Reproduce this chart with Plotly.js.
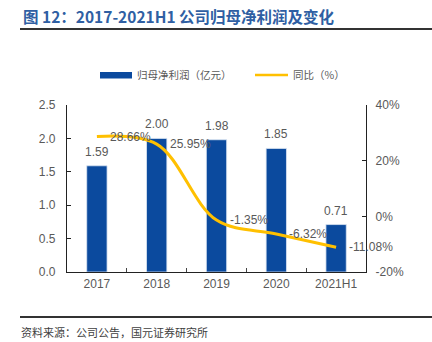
<!DOCTYPE html>
<html>
<head>
<meta charset="utf-8">
<script src="https://cdn.plot.ly/plotly-3.0.1.min.js"></script>
<style>
html,body{margin:0;padding:0;background:#fff;}
#chart{width:432px;height:342px;}
</style>
</head>
<body>
<div id="chart"></div>
<script>
const categories = ["2017", "2018", "2019", "2020", "2021H1"];
const netProfit = [1.59, 2.00, 1.98, 1.85, 0.71];
const growth = [28.66, 25.95, -1.35, -6.32, -11.08];
const profitLabels = ["1.59", "2.00", "1.98", "1.85", "0.71"];
const growthLabels = ["28.66%", "25.95%", "-1.35%", "-6.32%", "-11.08%"];
const leftTicks = [0, 0.5, 1.0, 1.5, 2.0, 2.5];
const leftTickText = ["0.0", "0.5", "1.0", "1.5", "2.0", "2.5"];
const rightTicks = [-20, 0, 20, 40];
const rightTickText = ["-20%", "0%", "20%", "40%"];

const W = 432, H = 342;
const M = {l: 67, r: 66, t: 105, b: 70};
const px = x => (x - M.l) / (W - M.l - M.r);
const py = y => (H - M.b - y) / (H - M.t - M.b);

const FONT = '"Noto Sans CJK SC", "Liberation Sans", Arial, sans-serif';
const NUMFONT = '"Liberation Sans", Arial, sans-serif';
const gray = '#595959';
const blue = '#0B4A9E';
const gold = '#FFC000';

const traces = [
  {
    type: 'bar', x: categories, y: netProfit, name: '归母净利润（亿元）',
    marker: {color: blue, line: {color: '#DCE6F2', width: 0.8}},
    width: 0.34,
    hoverinfo: 'skip'
  },
  {
    type: 'scatter', mode: 'lines', x: categories, y: growth, yaxis: 'y2',
    name: '同比（%）',
    line: {color: gold, width: 3, shape: 'spline', smoothing: 1.0},
    hoverinfo: 'skip'
  }
];

const annotations = categories.map((c, i) => ({
  x: i, y: growth[i], xref: 'x', yref: 'y2', text: growthLabels[i],
  showarrow: false, xanchor: 'left', yanchor: 'middle', xshift: 11,
  font: {family: NUMFONT, size: 12, color: gray}
}));

categories.forEach((c, i) => annotations.push({
  x: i, y: netProfit[i], xref: 'x', yref: 'y', text: profitLabels[i],
  showarrow: false, xanchor: 'center', yanchor: 'bottom', yshift: 5,
  font: {family: NUMFONT, size: 12, color: gray}
}));

annotations.push(
  {xref: 'paper', yref: 'paper', x: px(21), y: py(16), xanchor: 'left', yanchor: 'middle',
   text: '<b>图 12：2017-2021H1 公司归母净利润及变化</b>', showarrow: false,
   font: {family: FONT, size: 15.5, color: '#2F5FA3'}},
  {xref: 'paper', yref: 'paper', x: px(135), y: py(75), xanchor: 'left', yanchor: 'middle',
   text: '归母净利润（亿元）', showarrow: false, font: {family: FONT, size: 10.5, color: gray}},
  {xref: 'paper', yref: 'paper', x: px(291), y: py(75), xanchor: 'left', yanchor: 'middle',
   text: '同比（%）', showarrow: false, font: {family: FONT, size: 10.5, color: gray}},
  {xref: 'paper', yref: 'paper', x: px(19), y: py(332), xanchor: 'left', yanchor: 'middle',
   text: '资料来源：公司公告，国元证券研究所', showarrow: false, font: {family: FONT, size: 11, color: '#404040'}}
);

const shapes = [
  {type: 'line', xref: 'paper', yref: 'paper', x0: px(20), x1: px(432), y0: py(29), y1: py(29), line: {color: '#333', width: 1.8}},
  {type: 'line', xref: 'paper', yref: 'paper', x0: px(20), x1: px(432), y0: py(317), y1: py(317), line: {color: '#333', width: 1.8}},
  {type: 'rect', xref: 'paper', yref: 'paper', x0: px(100), x1: px(132), y0: py(78.5), y1: py(72), fillcolor: blue, line: {width: 0}},
  {type: 'line', xref: 'paper', yref: 'paper', x0: px(255), x1: px(288), y0: py(75), y1: py(75), line: {color: gold, width: 2.5}}
];

const layout = {
  width: W, height: H,
  margin: M,
  paper_bgcolor: '#fff', plot_bgcolor: '#fff',
  showlegend: false,
  xaxis: {
    type: 'category', range: [-0.5, 4.5], showline: true, linecolor: '#222', linewidth: 1.2,
    ticks: 'inside', tickson: 'boundaries', ticklen: 4, tickcolor: '#444',
    tickfont: {family: NUMFONT, size: 12, color: gray}, tickangle: 0,
    showgrid: false, zeroline: false, fixedrange: true
  },
  yaxis: {
    range: [0, 2.5], tickvals: leftTicks, ticktext: leftTickText,
    showline: true, linecolor: '#222', linewidth: 1.2,
    ticks: 'inside', ticklen: 4, tickcolor: '#222',
    ticklabelstandoff: 8,
    tickfont: {family: NUMFONT, size: 12, color: gray},
    showgrid: false, zeroline: false
  },
  yaxis2: {
    overlaying: 'y', side: 'right', range: [-20, 40],
    tickvals: rightTicks, ticktext: rightTickText,
    showline: true, linecolor: '#222', linewidth: 1.2,
    ticks: 'inside', ticklen: 4, tickcolor: '#222',
    ticklabelstandoff: 6,
    tickfont: {family: NUMFONT, size: 12, color: gray},
    showgrid: false, zeroline: false
  },
  annotations: annotations,
  shapes: shapes
};

Plotly.newPlot('chart', traces, layout, {staticPlot: true});
</script>
</body>
</html>
